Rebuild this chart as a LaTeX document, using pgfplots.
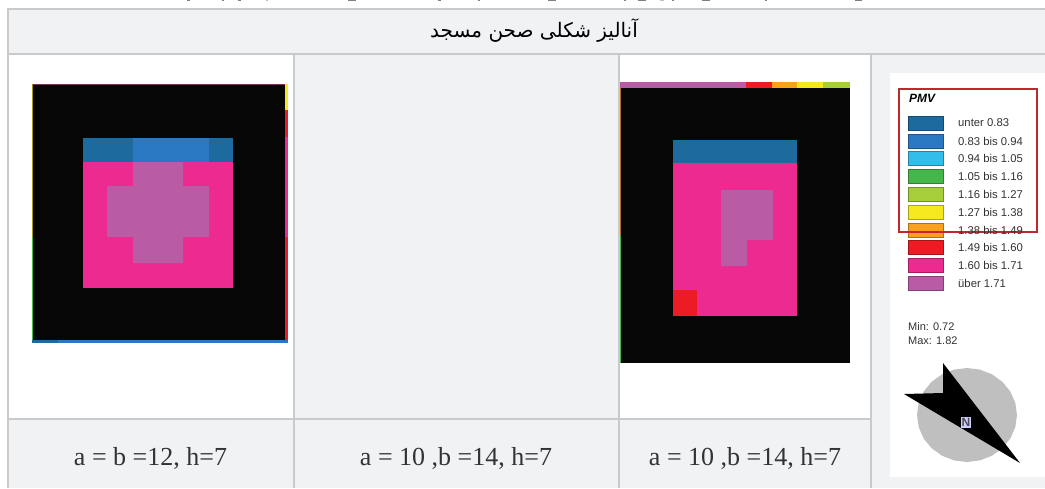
\documentclass[border=0pt]{standalone}
\usepackage{pgfplots}
\pgfplotsset{compat=1.18}
\usepackage{fontspec}
\setmainfont{Liberation Serif}
\newfontfamily\lsans{Liberation Sans}
\newfontfamily\arabicfont[Script=Arabic]{DejaVu Sans}
\TeXXeTstate=1
\definecolor{gridc}{HTML}{C9CACC}
\definecolor{cellc}{HTML}{F1F2F4}
\definecolor{c1}{HTML}{1D6A9E}
\definecolor{c2}{HTML}{2B78C2}
\definecolor{c3}{HTML}{33BDEB}
\definecolor{c4}{HTML}{45B649}
\definecolor{c5}{HTML}{A6CE39}
\definecolor{c6}{HTML}{F4E91C}
\definecolor{c7}{HTML}{F9A11B}
\definecolor{c8}{HTML}{ED1C24}
\definecolor{c9}{HTML}{EC2A90}
\definecolor{c10}{HTML}{B95BA5}
\definecolor{blk}{HTML}{060606}
\definecolor{frame}{HTML}{C1272D}
\definecolor{disc}{HTML}{BFBFBF}
\definecolor{txt}{HTML}{333333}
\newcommand\R[5]{\addplot[fill=#5,draw=none,forget plot] coordinates {(#1,#2)(#3,#2)(#3,#4)(#1,#4)} -- cycle;}
\newcommand\Sw[3]{\addplot[fill=#3,draw=#3!70!black,line width=0.6pt,forget plot] coordinates {(908,#1)(943,#1)(943,#2)(908,#2)} -- cycle;}
\newcommand\Lg[2]{\node[anchor=west,inner sep=0pt,text=txt] at (axis cs:958,#1) {\fontsize{11.3}{13}\lsans #2};}
\begin{document}
\begin{tikzpicture}
\begin{axis}[
  width=1045pt,height=488pt,scale only axis,
  xmin=0,xmax=1045,ymin=0,ymax=488,y dir=reverse,
  hide axis,
]
% page
\R{0}{0}{1045}{488}{white}
% table cells
\R{8}{9}{1045}{488}{cellc}
\R{9}{55}{293}{418}{white}
\R{620}{55}{870}{418}{white}
% grid lines
\R{7}{8}{1045}{10}{gridc}
\R{7}{53}{1045}{55}{gridc}
\R{7}{418}{872}{420}{gridc}
\R{7}{8}{9}{488}{gridc}
\R{293}{54}{295}{488}{gridc}
\R{617.5}{54}{619.5}{488}{gridc}
\R{870}{54}{872}{488}{gridc}
% clipped line of text above the table
\R{187}{0}{190}{1}{gray}
\R{222}{0}{224}{1}{gray}
\R{238}{0}{241}{1}{gray}
\R{266}{0}{268}{1}{lightgray}
\R{348}{0}{356}{1.2}{gray}
\R{438}{0}{441}{1}{gray}
\R{478}{0}{480}{1}{gray}
\R{548}{0}{556}{1.2}{gray}
\R{624}{0}{626}{1}{gray}
\R{638}{0}{646}{1.2}{gray}
\R{660}{0}{664}{1}{lightgray}
\R{672}{0}{674}{1}{gray}
\R{702}{0}{710}{1.2}{gray}
\R{765}{0}{767}{1}{gray}
\R{855}{0}{862}{1.2}{gray}
% map 1
\R{32}{84}{288}{343}{blk}
\R{32}{84}{285}{85}{c10!60!black}
\R{285}{84}{288}{110}{c6}
\R{285}{110}{288}{137}{c8}
\R{285}{137}{288}{237}{c9}
\R{285}{237}{288}{343}{c8}
\R{32}{84}{33}{237}{c6!65!black}
\R{32}{237}{33}{343}{c4}
\R{32}{340}{58}{343}{c1}
\R{58}{340}{288}{343}{c2}
\R{83}{138}{233}{288}{c9}
\R{83}{138}{133}{162}{c1}
\R{133}{138}{209}{162}{c2}
\R{209}{138}{233}{162}{c1}
\addplot[fill=c10,draw=none,forget plot] coordinates {(133,162)(183,162)(183,186)(209,186)(209,237)(183,237)(183,263)(133,263)(133,237)(107,237)(107,186)(133,186)} -- cycle;
% map 3
\R{620}{82}{850}{363}{blk}
\R{620}{82}{746}{88}{c10}
\R{746}{82}{772}{88}{c8}
\R{772}{82}{797}{88}{c7}
\R{797}{82}{823}{88}{c6}
\R{823}{82}{850}{88}{c5}
\R{620}{88}{621}{235}{c7!70!black}
\R{620}{235}{621}{363}{c4}
\R{673}{140}{797}{316}{c9}
\R{673}{140}{797}{163}{c1}
\R{673}{290}{697}{316}{c8}
\addplot[fill=c10,draw=none,forget plot] coordinates {(721,190)(773,190)(773,240)(747,240)(747,266)(721,266)} -- cycle;
% legend image
\R{890}{73}{1045}{477}{white}
\Sw{116}{130}{c1}
\Sw{134}{148}{c2}
\Sw{151.5}{165.5}{c3}
\Sw{169.5}{183.5}{c4}
\Sw{187}{201}{c5}
\Sw{205}{219}{c6}
\Sw{223}{237}{c7}
\Sw{240.5}{254.5}{c8}
\Sw{258.5}{272.5}{c9}
\Sw{276}{290}{c10}
% compass
\addplot[fill=disc,draw=none,forget plot] coordinates {(1017,415)(1015.3,427.2)(1010.3,438.5)(1002.4,448.2)(992,455.7)(979.9,460.4)(967,462)(954.1,460.4)(942,455.7)(931.6,448.2)(923.7,438.5)(918.7,427.2)(917,415)(918.7,402.8)(923.7,391.5)(931.6,381.8)(942,374.3)(954.1,369.6)(967,368)(979.9,369.6)(992,374.3)(1002.4,381.8)(1010.3,391.5)(1015.3,402.8)} -- cycle;
\addplot[fill=black,draw=none,forget plot] coordinates {(943,363)(1020,463)(904,394)(943,393)} -- cycle;
% frame
\addplot[draw=frame,line width=1.6pt,forget plot] coordinates {(899,89)(1037,89)(1037,232)(899,232)} -- cycle;
% texts
\node[anchor=center,text=black] at (axis cs:534,31) {\fontsize{20}{24}\arabicfont\beginR آنالیز شکلی صحن مسجد\endR};
\node[text=txt] at (axis cs:150.5,458) {\fontsize{26}{30}\selectfont a = b =12, h=7};
\node[text=txt] at (axis cs:456,458) {\fontsize{26}{30}\selectfont a = 10 ,b =14, h=7};
\node[text=txt] at (axis cs:745,458) {\fontsize{26}{30}\selectfont a = 10 ,b =14, h=7};
\node[anchor=west,inner sep=0pt] at (axis cs:909,98.5) {\fontsize{12}{14}\lsans\bfseries\itshape PMV};
\Lg{123}{unter 0.83}
\Lg{141}{0.83 bis 0.94}
\Lg{158.5}{0.94 bis 1.05}
\Lg{176.5}{1.05 bis 1.16}
\Lg{194}{1.16 bis 1.27}
\Lg{212}{1.27 bis 1.38}
\Lg{230}{1.38 bis 1.49}
\Lg{247.5}{1.49 bis 1.60}
\Lg{265.5}{1.60 bis 1.71}
\Lg{283}{über 1.71}
\node[anchor=west,inner sep=0pt,text=txt] at (axis cs:908,327) {\fontsize{11}{13}\lsans Min: 0.72};
\node[anchor=west,inner sep=0pt,text=txt] at (axis cs:908,340.5) {\fontsize{11}{13}\lsans Max: 1.82};
\node[inner sep=1pt,fill=white!80!blue,text=black!70] at (axis cs:966,422.5) {\fontsize{12}{13}\lsans\bfseries N};
\end{axis}
\end{tikzpicture}
\end{document}
